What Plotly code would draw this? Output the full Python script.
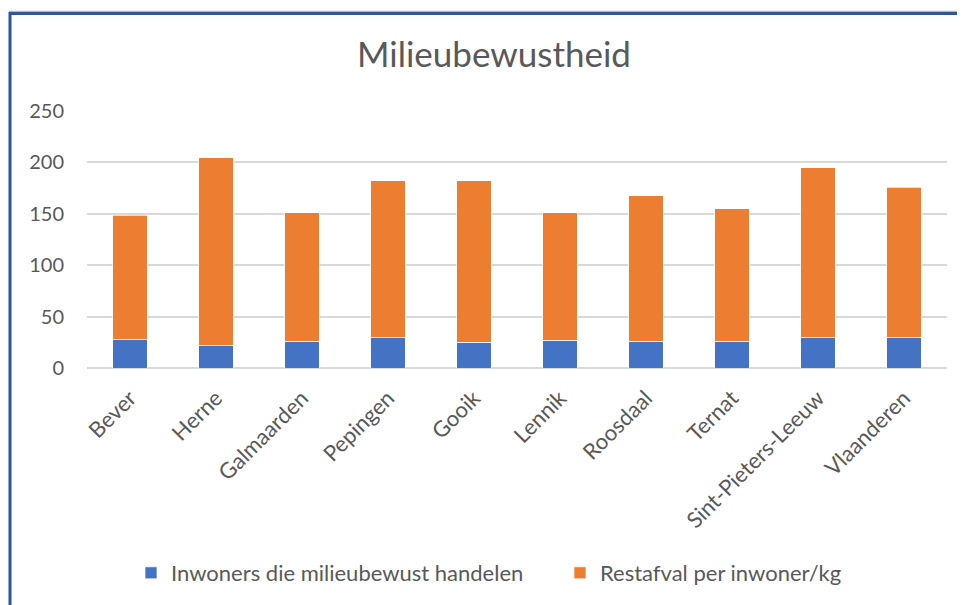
import plotly.graph_objects as go

gemeenten = ["Bever", "Herne", "Galmaarden", "Pepingen", "Gooik", "Lennik",
             "Roosdaal", "Ternat", "Sint-Pieters-Leeuw", "Vlaanderen"]
milieubewust = [27.6, 21.8, 26.0, 29.2, 25.0, 26.9, 26.0, 26.0, 29.2, 29.2]
restafval = [120.9, 182.9, 125.2, 152.8, 157.0, 123.9, 141.7, 129.0, 165.8, 146.6]

BLUE = "#4472C4"
ORANGE = "#ED7D31"
TEXT = "#595959"
FONT = "Lato"

# the page body has an 8px margin, so the figure is drawn 8px smaller
OFF = 8
W, H = 965 - OFF, 605 - OFF
# plot area in page pixels: x 87..947, y 111..368
L, R, T, B = 87 - OFF, 965 - 947, 111 - OFF, 605 - 368
PW = W - L - R
PH = H - T - B


def px_to_paper(x=None, y=None):
    # page pixels -> paper coordinates of the plot area
    if x is not None:
        return (x - OFF - L) / PW
    return (H - B - (y - OFF)) / PH


fig = go.Figure()
fig.add_trace(go.Bar(
    x=gemeenten, y=milieubewust, name="Inwoners die milieubewust handelen",
    marker=dict(color=BLUE, line=dict(color="rgba(255,255,255,0.7)", width=1)),
    legend="legend",
))
fig.add_trace(go.Bar(
    x=gemeenten, y=restafval, name="Restafval per inwoner/kg",
    marker=dict(color=ORANGE, line=dict(color="rgba(255,255,255,0.7)", width=1)),
    legend="legend2",
))

legend_style = dict(orientation="h", xanchor="left", yanchor="middle",
                    font=dict(size=22, color=TEXT), itemwidth=30,
                    bgcolor="rgba(0,0,0,0)")

fig.update_layout(
    barmode="stack",
    bargap=0.6,
    width=W,
    height=H,
    margin=dict(l=L, r=R, t=T, b=B, autoexpand=False),
    paper_bgcolor="white",
    plot_bgcolor="white",
    font=dict(family=FONT, color=TEXT, size=20),
    title=dict(text="Milieubewustheid", x=px_to_paper(x=494), xref="paper",
               xanchor="center", y=1 - (55 - OFF) / H, yanchor="middle",
               font=dict(size=35, color=TEXT)),
    legend=dict(x=px_to_paper(x=131), y=px_to_paper(y=573), **legend_style),
    legend2=dict(x=px_to_paper(x=560), y=px_to_paper(y=573), **legend_style),
    showlegend=True,
)

fig.update_yaxes(range=[0, 250], dtick=50, showgrid=True, gridcolor="#D9D9D9",
                 gridwidth=1.5, zeroline=True, zerolinecolor="#D9D9D9",
                 zerolinewidth=1.5, ticks="", ticklabelstandoff=22,
                 tickfont=dict(size=20, color=TEXT), showline=False)
fig.update_xaxes(tickangle=-45, showgrid=False, showline=False, ticks="",
                 ticklabelstandoff=12, tickfont=dict(size=22, color=TEXT))

# outer frame (top and left edge of the original chart box)
fig.add_shape(type="line", xref="paper", yref="paper",
              x0=px_to_paper(x=9), x1=px_to_paper(x=980),
              y0=px_to_paper(y=11.5), y1=px_to_paper(y=11.5),
              line=dict(color="#B4B9C4", width=1.5))
fig.add_shape(type="line", xref="paper", yref="paper",
              x0=px_to_paper(x=9), x1=px_to_paper(x=980),
              y0=px_to_paper(y=13.5), y1=px_to_paper(y=13.5),
              line=dict(color="#2F5597", width=3))
fig.add_shape(type="line", xref="paper", yref="paper",
              x0=px_to_paper(x=10), x1=px_to_paper(x=10),
              y0=px_to_paper(y=12), y1=px_to_paper(y=620),
              line=dict(color="#2F5597", width=3))

fig.write_html("out.html")
